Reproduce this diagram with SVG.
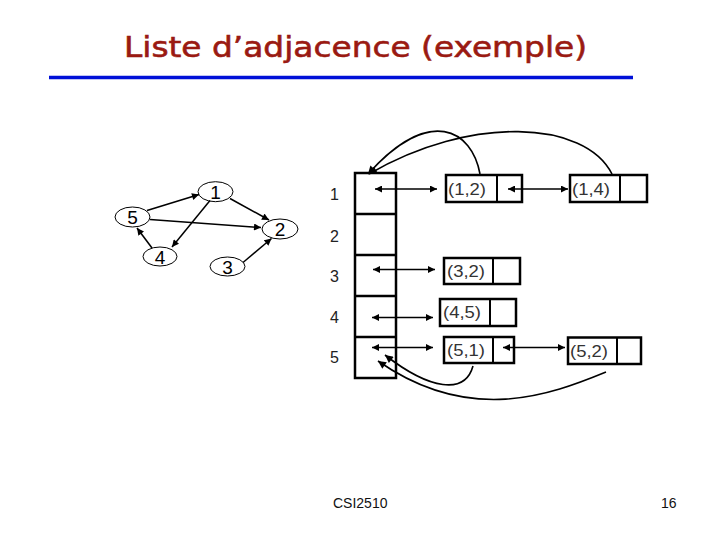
<svg xmlns="http://www.w3.org/2000/svg" width="720" height="540" viewBox="0 0 720 540">
<defs>
<style>
.title{font-family:"DejaVu Sans","Liberation Sans",sans-serif;font-size:29px;fill:#9a1a12;stroke:#9a1a12;stroke-width:0.6}
.lbl{font-family:"Liberation Sans",Arial,sans-serif;font-size:16px;fill:#222}
.rec{font-family:"Liberation Sans",Arial,sans-serif;font-size:16px;fill:#333}
.foot{font-family:"Liberation Sans",Arial,sans-serif;font-size:14px;fill:#111}
.gn{fill:none;stroke:#000;stroke-width:1}
.gt{font-family:"Liberation Sans",Arial,sans-serif;font-size:19px;fill:#000;text-anchor:middle}
.box{fill:#fff;stroke:#000;stroke-width:2.5}
.ge{stroke:#000;stroke-width:1.5;fill:none;marker-end:url(#ah)}
.dbl{stroke:#000;stroke-width:1.5;fill:none;marker-start:url(#as);marker-end:url(#ah)}
.crv{stroke:#000;stroke-width:1.6;fill:none;marker-end:url(#ah2)}
</style>
<marker id="ah" viewBox="0 0 10 10" refX="10" refY="5" markerWidth="8" markerHeight="7" markerUnits="userSpaceOnUse" orient="auto"><path d="M0,0 L10,5 L0,10 z" fill="#000"/></marker>
<marker id="as" viewBox="0 0 10 10" refX="0" refY="5" markerWidth="8" markerHeight="7" markerUnits="userSpaceOnUse" orient="auto"><path d="M10,0 L0,5 L10,10 z" fill="#000"/></marker>
<marker id="ah2" viewBox="0 0 10 10" refX="10" refY="5" markerWidth="10" markerHeight="8" markerUnits="userSpaceOnUse" orient="auto"><path d="M0,0 L10,5 L0,10 z" fill="#000"/></marker>
</defs>
<rect width="720" height="540" fill="#fff"/>
<text class="title" x="124" y="57" textLength="463" lengthAdjust="spacingAndGlyphs">Liste d’adjacence (exemple)</text>
<line x1="49" y1="77.5" x2="633" y2="77.5" stroke="#0010d8" stroke-width="3.5"/>

<g id="graph-edges">
<line class="ge" x1="147" y1="210.5" x2="199" y2="194.5"/>
<line class="ge" x1="230" y1="198.5" x2="269" y2="220"/>
<line class="ge" x1="150" y1="219.5" x2="261" y2="227.5"/>
<line class="ge" x1="210" y1="200.5" x2="172" y2="247"/>
<line class="ge" x1="152" y1="248" x2="137" y2="228"/>
<line class="ge" x1="243" y1="262.5" x2="271.5" y2="238.5"/>
</g>
<g id="g1"><ellipse class="gn" cx="215.5" cy="191.7" rx="17.5" ry="10"/><text class="gt" x="215.5" y="198.5">1</text></g>
<g id="g5"><ellipse class="gn" cx="132.5" cy="217" rx="17.5" ry="10"/><text class="gt" x="132.5" y="224">5</text></g>
<g id="g2"><ellipse class="gn" cx="280" cy="229" rx="18" ry="10"/><text class="gt" x="280" y="236">2</text></g>
<g id="g4"><ellipse class="gn" cx="160" cy="256.5" rx="17" ry="9.5"/><text class="gt" x="160" y="263.5">4</text></g>
<g id="g3"><ellipse class="gn" cx="227.5" cy="266.5" rx="17.5" ry="9.5"/><text class="gt" x="227.5" y="273.5">3</text></g>

<g id="array">
<rect class="box" x="355" y="173" width="41" height="205"/>
<line x1="355" y1="214" x2="396" y2="214" stroke="#000" stroke-width="2.5"/>
<line x1="355" y1="255" x2="396" y2="255" stroke="#000" stroke-width="2.5"/>
<line x1="355" y1="296" x2="396" y2="296" stroke="#000" stroke-width="2.5"/>
<line x1="355" y1="337" x2="396" y2="337" stroke="#000" stroke-width="2.5"/>
<text class="lbl" x="330" y="200">1</text>
<text class="lbl" x="330" y="242">2</text>
<text class="lbl" x="330" y="282">3</text>
<text class="lbl" x="330" y="323">4</text>
<text class="lbl" x="330" y="363">5</text>
</g>

<g id="r12"><rect class="box" x="446" y="175" width="76" height="27"/><line x1="497" y1="175" x2="497" y2="202" stroke="#000" stroke-width="2"/><text class="rec" x="448" y="195" textLength="38" lengthAdjust="spacingAndGlyphs">(1,2)</text></g>
<g id="r14"><rect class="box" x="570" y="175" width="77" height="27"/><line x1="620" y1="175" x2="620" y2="202" stroke="#000" stroke-width="2"/><text class="rec" x="572" y="195" textLength="38" lengthAdjust="spacingAndGlyphs">(1,4)</text></g>
<g id="r32"><rect class="box" x="444" y="258" width="76" height="26"/><line x1="493" y1="258" x2="493" y2="284" stroke="#000" stroke-width="2"/><text class="rec" x="447" y="277" textLength="38" lengthAdjust="spacingAndGlyphs">(3,2)</text></g>
<g id="r45"><rect class="box" x="440" y="299" width="76" height="27"/><line x1="490" y1="299" x2="490" y2="326" stroke="#000" stroke-width="2"/><text class="rec" x="443" y="318" textLength="38" lengthAdjust="spacingAndGlyphs">(4,5)</text></g>
<g id="r51"><rect class="box" x="444" y="337" width="70" height="26"/><line x1="493" y1="337" x2="493" y2="363" stroke="#000" stroke-width="2"/><text class="rec" x="447" y="356" textLength="38" lengthAdjust="spacingAndGlyphs">(5,1)</text></g>
<g id="r52"><rect class="box" x="568" y="337.5" width="73" height="26.5"/><line x1="617" y1="337.5" x2="617" y2="364" stroke="#000" stroke-width="2"/><text class="rec" x="570" y="357" textLength="38" lengthAdjust="spacingAndGlyphs">(5,2)</text></g>

<g id="connectors">
<line class="dbl" x1="375" y1="189" x2="437" y2="189"/>
<line class="dbl" x1="508" y1="189" x2="568" y2="189"/>
<line class="dbl" x1="373" y1="269.5" x2="435" y2="269.5"/>
<line class="dbl" x1="372" y1="317.5" x2="433" y2="317.5"/>
<line class="dbl" x1="372" y1="347.5" x2="433" y2="347.5"/>
<line class="dbl" x1="503" y1="347.5" x2="565" y2="347.5"/>
<path class="crv" d="M480,174 C472,130 430,105 368,174"/>
<path class="crv" d="M612,174 C585,120 470,115 369,174"/>
<path class="crv" d="M473,366 C465,395 430,390 385,355"/>
<path class="crv" d="M606,372 C550,395 470,425 378,361"/>
</g>

<text class="foot" x="333" y="508">CSI2510</text>
<text class="foot" x="661" y="508">16</text>
</svg>
